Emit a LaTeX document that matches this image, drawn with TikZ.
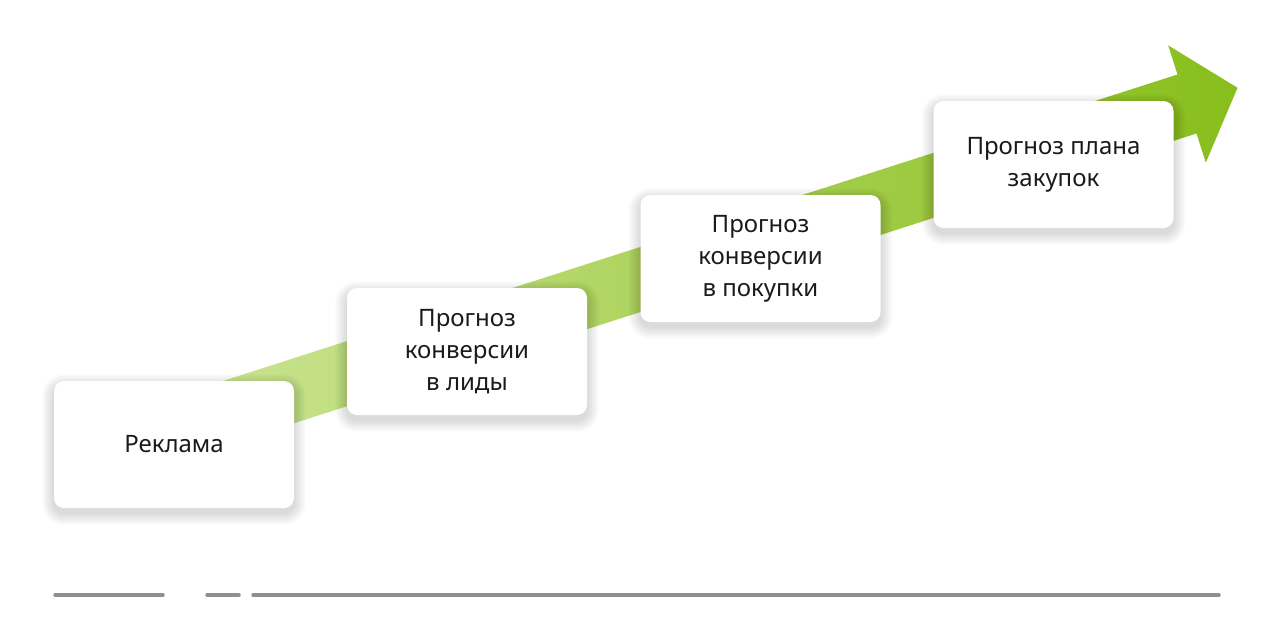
\documentclass[tikz,border=0pt]{standalone}
\usepackage{fontspec}
\setmainfont{Noto Sans}
\usetikzlibrary{calc}
\definecolor{arrowlight}{RGB}{206,230,152}
\definecolor{arrowdark}{RGB}{136,190,28}
\definecolor{linegray}{RGB}{142,142,148}
\definecolor{txt}{RGB}{26,26,26}
\tikzset{
  stepbox/.style={draw=none, fill=white, rounded corners=10pt,
    minimum width=240pt, minimum height=127pt, align=center, text=txt,
    font=\fontsize{24}{32}\selectfont},
  shadowlayer/.style={fill=black, opacity=0.011},
  baseline/.style={draw=linegray, line width=3.5pt, line cap=round}
}
\begin{document}
\begin{tikzpicture}[x=1pt,y=-1pt]
\useasboundingbox (0,0) rectangle (1280,629);
\fill[white] (0,0) rectangle (1280,629);
% big arrow
\shade[left color=arrowlight, right color=arrowdark]
  (140.5,407.4) -- (1177.5,74.5) -- (1168.2,45.4) -- (1237.5,87.8)
  -- (1205.8,162.6) -- (1196.5,133.5) -- (159.5,466.4) -- cycle;
% box centres
\coordinate (c1) at (174,444.5);
\coordinate (c2) at (467,351.5);
\coordinate (c3) at (760.5,258.5);
\coordinate (c4) at (1053.5,164.5);
% soft shadows
\foreach \c in {c1,c2,c3,c4}{
  \foreach \r in {1,...,12}{
    \fill[shadowlayer, rounded corners=10+\r]
      ($(\c)+(-120-\r,-63.5-\r+5)$) rectangle ($(\c)+(120+\r,63.5+\r+5)$);
  }
}
% boxes
\node[stepbox] (b1) at (c1) {Реклама};
\node[stepbox] (b2) at (c2) {Прогноз\\конверсии\\в лиды};
\node[stepbox] (b3) at (c3) {Прогноз\\конверсии\\в покупки};
\node[stepbox] (b4) at (c4) {Прогноз плана\\закупок};
% bottom lines
\coordinate (l1a) at (55,595); \coordinate (l1b) at (163,595);
\coordinate (l2a) at (207,595); \coordinate (l2b) at (239,595);
\coordinate (l3a) at (253,595); \coordinate (l3b) at (1219,595);
\draw[baseline] (l1a) -- (l1b);
\draw[baseline] (l2a) -- (l2b);
\draw[baseline] (l3a) -- (l3b);
\end{tikzpicture}
\end{document}
